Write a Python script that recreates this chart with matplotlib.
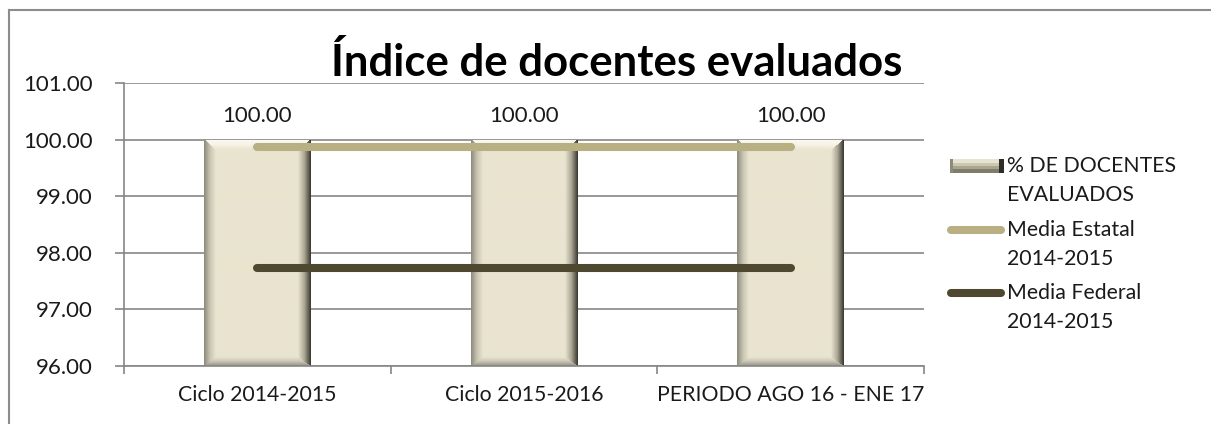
import numpy as np
import matplotlib
matplotlib.use("Agg")
import matplotlib.pyplot as plt
from matplotlib.lines import Line2D
from matplotlib.patches import Rectangle
from matplotlib.ticker import FixedLocator, FormatStrFormatter

# ---------------- data ----------------
categories = ["Ciclo 2014-2015", "Ciclo 2015-2016", "PERIODO AGO 16 - ENE 17"]
docentes_evaluados = [100.00, 100.00, 100.00]
media_estatal = [99.87, 99.87, 99.87]
media_federal = [97.73, 97.73, 97.73]
series_labels = [["% DE DOCENTES", "EVALUADOS"],
                 ["Media Estatal", "2014-2015"],
                 ["Media Federal", "2014-2015"]]
chart_title = "Índice de docentes evaluados"
y_ticks = [96, 97, 98, 99, 100, 101]

# ---------------- style ----------------
W, H, DPI = 1211, 424, 100
plt.rcParams['font.family'] = ['Lato', 'DejaVu Sans']
GRAY = '#868686'
C_ESTATAL = '#B8AF82'
C_FEDERAL = '#4F4830'
FACE = (233, 228, 207)

BAR_OUT = [(252, 251, 244), (140, 137, 122), (55, 52, 43), (150, 146, 128)]
BAR_MID = [(246, 243, 230), (200, 196, 178), (170, 166, 148), (200, 196, 180)]


def bevel_image(h, w, bt, bl, br, bb, edges_out, edges_mid, face=FACE):
    yy, xx = np.mgrid[0:h, 0:w] + 0.5
    d = np.stack([yy / bt, xx / bl, (w - xx) / br, (h - yy) / bb])
    idx = np.argmin(d, axis=0)
    t = np.clip(np.min(d, axis=0), 0, 1)
    f = np.array(face) / 255.0
    img = np.zeros((h, w, 3))
    for k in range(4):
        o = np.array(edges_out[k]) / 255.0
        m = np.array(edges_mid[k]) / 255.0
        tt = t[..., None]
        col = np.where(tt < 0.5, o * (1 - 2 * tt) + m * (2 * tt),
                       m * (2 - 2 * tt) + f * (2 * tt - 1))
        mask = idx == k
        img[mask] = col[mask]
    return img


fig = plt.figure(figsize=(W / DPI, H / DPI), dpi=DPI)
ax = fig.add_axes([124 / W, 1 - 366 / H, 800 / W, (366 - 83.3) / H])

x = np.arange(len(categories))
ax.set_xlim(-0.5, len(categories) - 0.5)
ax.set_ylim(y_ticks[0], y_ticks[-1])

bars = ax.bar(x, docentes_evaluados, width=0.4, color=[c / 255 for c in FACE], zorder=2)
ymin = y_ticks[0]
for b in bars:
    x0, x1 = b.get_x(), b.get_x() + b.get_width()
    y0, y1 = max(b.get_y(), ymin), b.get_y() + b.get_height()
    p0 = ax.transData.transform((x0, y0))
    p1 = ax.transData.transform((x1, y1))
    wpx, hpx = int(round(p1[0] - p0[0])), int(round(p1[1] - p0[1]))
    img = bevel_image(hpx, wpx, 11, 12, 13, 9, BAR_OUT, BAR_MID)
    im = ax.imshow(img, extent=[x0, x1, y0, y1], aspect='auto', zorder=2.5,
                   interpolation='bilinear')
    im.set_clip_path(b)

ax.plot(x, media_estatal, color=C_ESTATAL, lw=5.8, solid_capstyle='round', zorder=3)
ax.plot(x, media_federal, color=C_FEDERAL, lw=5.8, solid_capstyle='round', zorder=3)

for xi, v in zip(x, docentes_evaluados):
    ax.annotate(f"{v:.2f}", (xi, v), xytext=(0, 13), textcoords='offset points',
                ha='center', va='baseline', fontsize=16, color='#1a1a1a')

ax.set_xlim(-0.5, len(categories) - 0.5)
ax.set_ylim(y_ticks[0], y_ticks[-1])
ax.yaxis.set_major_locator(FixedLocator(y_ticks))
ax.yaxis.set_major_formatter(FormatStrFormatter('%.2f'))
ax.set_xticks(x)
ax.set_xticklabels(categories)
ax.set_xticks(np.arange(len(categories) + 1) - 0.5, minor=True)

ax.grid(axis='y', color=GRAY, lw=1.2, zorder=0)
ax.set_axisbelow(True)
for s in ['top', 'right']:
    ax.spines[s].set_visible(False)
for s in ['left', 'bottom']:
    ax.spines[s].set_color(GRAY)
    ax.spines[s].set_linewidth(1.2)
ax.tick_params(axis='y', length=6.5, width=1.2, color=GRAY, pad=16, labelsize=16,
               labelcolor='#1a1a1a')
ax.tick_params(axis='x', which='major', length=0, pad=14, labelsize=15.3,
               labelcolor='#1a1a1a')
ax.tick_params(axis='x', which='minor', length=6, width=1.2, color=GRAY)

fig.text(617 / W, 1 - 76 / H, chart_title, ha='center', va='baseline',
         fontsize=31.5, fontweight='bold', color='#000000')


def fig_rect(px0, py0, pw, ph, color):
    """Rectangle in figure pixel coords measured from the top-left."""
    fig.add_artist(Rectangle((px0 / W, 1 - (py0 + ph) / H), pw / W, ph / H,
                             transform=fig.transFigure, facecolor=color,
                             edgecolor='none', zorder=5))


# ---------------- legend ----------------
first_line_y = [166, 230, 293]
line_gap = 29
for i, (lines, yc) in enumerate(zip(series_labels, first_line_y)):
    for j, txt in enumerate(lines):
        fig.text(1007 / W, 1 - (yc + j * line_gap) / H, txt, ha='left', va='center',
                 fontsize=15.3, color='#1a1a1a')
    if i == 0:
        # bevelled bar swatch: body, light upper band, darker lower band, ends
        fig_rect(950, 159, 54, 14, '#A9A590')
        fig_rect(950, 159, 54, 4, '#E6E3D2')
        fig_rect(950, 163, 54, 3, '#CBC7B1')
        fig_rect(950, 169, 54, 4, '#7F7C68')
        fig_rect(950, 159, 3, 14, '#8E8B78')
        fig_rect(999, 159, 5, 14, '#2F2D25')
    else:
        col = C_ESTATAL if i == 1 else C_FEDERAL
        fig.add_artist(Line2D([951 / W, 1001 / W], [1 - yc / H] * 2, color=col,
                              lw=5.8, solid_capstyle='round'))

# outer frame (top & left visible)
fig.add_artist(Line2D([8.5 / W, 8.5 / W], [0, 1 - 9.5 / H], color='#8C8C8C', lw=1.5))
fig.add_artist(Line2D([8.5 / W, 1], [1 - 9.5 / H, 1 - 9.5 / H], color='#8C8C8C', lw=1.5))

fig.savefig('out.png', dpi=DPI)
